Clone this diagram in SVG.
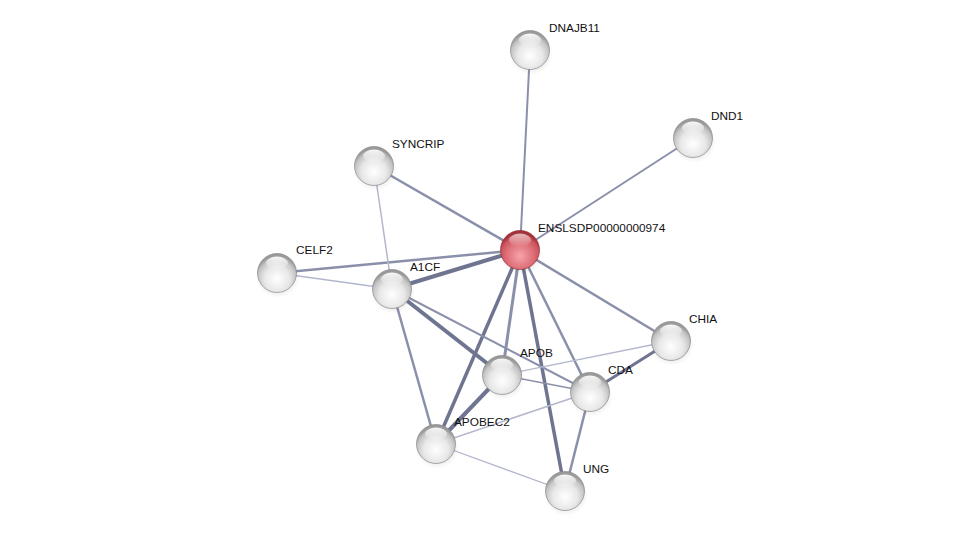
<svg xmlns="http://www.w3.org/2000/svg" xmlns:xlink="http://www.w3.org/1999/xlink" width="975" height="536" viewBox="0 0 975 536">
<style>
.e{stroke-linecap:butt;fill:none}
.k{stroke:#6f7590}
.m{stroke:#8b90aa}
.l{stroke:#b3b7cc}
text{font-family:"Liberation Sans",Arial,sans-serif;font-size:11.8px;fill:#111}
</style>
<defs>
<radialGradient id="gg" cx="50%" cy="65%" r="58%">
<stop offset="0" stop-color="#ffffff"/>
<stop offset="0.55" stop-color="#e8e8e8"/>
<stop offset="0.85" stop-color="#c4c4c4"/>
<stop offset="1" stop-color="#9a9a9a"/>
</radialGradient>
<radialGradient id="rg" cx="50%" cy="65%" r="58%">
<stop offset="0" stop-color="#f7a3aa"/>
<stop offset="0.55" stop-color="#e0737b"/>
<stop offset="0.85" stop-color="#cc555e"/>
<stop offset="1" stop-color="#a3313a"/>
</radialGradient>
<linearGradient id="gloss" x1="0" y1="0" x2="0" y2="1">
<stop offset="0" stop-color="#fff" stop-opacity="0.95"/>
<stop offset="1" stop-color="#fff" stop-opacity="0"/>
</linearGradient>
<radialGradient id="sh" cx="50%" cy="50%" r="50%">
<stop offset="0" stop-color="#000" stop-opacity="0.22"/>
<stop offset="1" stop-color="#000" stop-opacity="0"/>
</radialGradient>
<g id="ball">
<ellipse cx="1" cy="4" rx="22" ry="21" fill="url(#sh)"/>
<circle r="19.5" fill="url(#gg)" stroke="#8a8a8a" stroke-width="0.7"/>
<ellipse cx="0" cy="-10" rx="11" ry="6.5" fill="url(#gloss)"/>
</g>
<g id="rball">
<ellipse cx="1" cy="4" rx="22" ry="21" fill="url(#sh)"/>
<circle r="19.5" fill="url(#rg)" stroke="#93303a" stroke-width="0.7"/>
<ellipse cx="0" cy="-10" rx="11" ry="6.5" fill="url(#gloss)" opacity="0.7"/>
</g>
</defs>
<rect width="975" height="536" fill="#fff"/>
<g id="connectors">
<line class="e m" stroke-width="2" x1="520" y1="250" x2="530" y2="50"/>
<line class="e m" stroke-width="2" x1="520" y1="250" x2="693" y2="138"/>
<line class="e m" stroke-width="2.5" x1="520" y1="250" x2="374" y2="166"/>
<line class="e m" stroke-width="2.5" x1="520" y1="250" x2="277" y2="273"/>
<line class="e k" stroke-width="4" x1="520" y1="250" x2="392" y2="289"/>
<line class="e m" stroke-width="2.5" x1="520" y1="250" x2="671" y2="341"/>
<line class="e m" stroke-width="3" x1="520" y1="250" x2="502" y2="375"/>
<line class="e m" stroke-width="2.5" x1="520" y1="250" x2="590" y2="392"/>
<line class="e k" stroke-width="3.5" x1="520" y1="250" x2="436" y2="444"/>
<line class="e k" stroke-width="3.5" x1="520" y1="250" x2="565" y2="491"/>
<line class="e l" stroke-width="1.5" x1="374" y1="166" x2="392" y2="289"/>
<line class="e l" stroke-width="1.5" x1="277" y1="273" x2="392" y2="289"/>
<line class="e k" stroke-width="4" x1="392" y1="289" x2="502" y2="375"/>
<line class="e m" stroke-width="2" x1="392" y1="289" x2="590" y2="392"/>
<line class="e m" stroke-width="2.5" x1="392" y1="289" x2="436" y2="444"/>
<line class="e k" stroke-width="4" x1="502" y1="375" x2="436" y2="444"/>
<line class="e m" stroke-width="1.5" x1="502" y1="375" x2="590" y2="392"/>
<line class="e l" stroke-width="1.3" x1="502" y1="375" x2="671" y2="341"/>
<line class="e k" stroke-width="3" x1="590" y1="392" x2="671" y2="341"/>
<line class="e l" stroke-width="1.6" x1="590" y1="392" x2="436" y2="444"/>
<line class="e m" stroke-width="2.5" x1="590" y1="392" x2="565" y2="491"/>
<line class="e l" stroke-width="1.3" x1="436" y1="444" x2="565" y2="491"/>
</g>
<g id="n-DNAJB11" transform="translate(530,50)"><use xlink:href="#ball"/><text x="19" y="-18">DNAJB11</text></g>
<g id="n-DND1" transform="translate(693,138)"><use xlink:href="#ball"/><text x="18" y="-18">DND1</text></g>
<g id="n-SYNCRIP" transform="translate(374,166)"><use xlink:href="#ball"/><text x="18" y="-18">SYNCRIP</text></g>
<g id="n-CELF2" transform="translate(277,273)"><use xlink:href="#ball"/><text x="19" y="-19">CELF2</text></g>
<g id="n-A1CF" transform="translate(392,289)"><use xlink:href="#ball"/><text x="18" y="-18">A1CF</text></g>
<g id="n-CHIA" transform="translate(671,341)"><use xlink:href="#ball"/><text x="18" y="-18">CHIA</text></g>
<g id="n-APOB" transform="translate(502,375)"><use xlink:href="#ball"/><text x="18" y="-18">APOB</text></g>
<g id="n-CDA" transform="translate(590,392)"><use xlink:href="#ball"/><text x="18" y="-18">CDA</text></g>
<g id="n-APOBEC2" transform="translate(436,444)"><use xlink:href="#ball"/><text x="18" y="-18">APOBEC2</text></g>
<g id="n-UNG" transform="translate(565,491)"><use xlink:href="#ball"/><text x="18" y="-18">UNG</text></g>
<g id="n-ENSLSDP00000000974" transform="translate(520,250)"><use xlink:href="#rball"/><text x="18" y="-18">ENSLSDP00000000974</text></g>
</svg>
